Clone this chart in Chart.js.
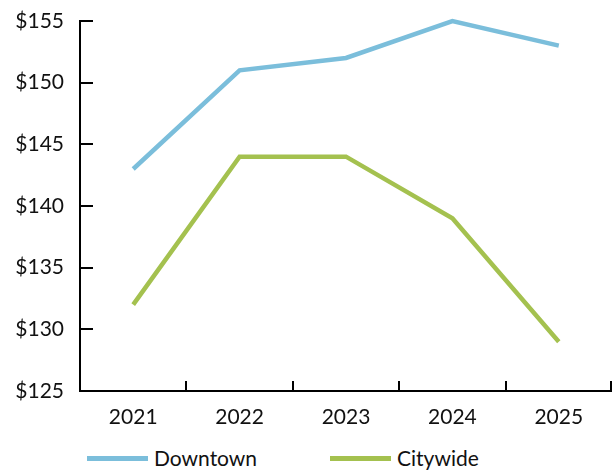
<!DOCTYPE html>
<html>
<head>
<meta charset="utf-8">
<script src="https://cdn.jsdelivr.net/npm/chart.js@4.4.0/dist/chart.umd.min.js"></script>
<style>
  html, body { margin: 0; padding: 0; background: #fff; }
  #wrap { position: relative; width: 612px; height: 472px; }
  #legend { position: absolute; left: 0; top: 446px; width: 612px; height: 24px;
            font-family: Lato, sans-serif; font-size: 21px; color: #111; }
  .item { position: absolute; top: 0; height: 24px; line-height: 24px; white-space: nowrap; }
  .swatch { position: absolute; top: 10px; width: 61px; height: 5px; }
  .label { position: absolute; top: 0; }
</style>
</head>
<body>
<div id="wrap">
  <canvas id="chart" width="612" height="425"></canvas>
  <div id="legend"></div>
</div>
<script>
// Chart data
const years = ['2021', '2022', '2023', '2024', '2025'];
const downtown = [143, 151, 152, 155, 153];
const citywide = [132, 144, 144, 139, 129];
const yTicks = [125, 130, 135, 140, 145, 150, 155];
const seriesColors = ['#7bbedb', '#a4c14f'];

// Draw short inward tick marks on both axes
const innerTicks = {
    id: 'innerTicks',
    afterDraw(chart) {
        const ctx = chart.ctx;
        const x = chart.scales.x, y = chart.scales.y;
        const area = chart.chartArea;
        const step = x.getPixelForValue(1) - x.getPixelForValue(0);
        ctx.save();
        ctx.strokeStyle = '#000';
        ctx.lineWidth = 2;
        ctx.beginPath();
        yTicks.forEach(v => {
            const py = Math.round(y.getPixelForValue(v));
            ctx.moveTo(area.left, py);
            ctx.lineTo(area.left + 13, py);
        });
        for (let i = 0; i < years.length; i++) {
            const px = Math.min(Math.round(x.getPixelForValue(i) + step / 2), area.right - 1);
            ctx.moveTo(px, area.bottom);
            ctx.lineTo(px, area.bottom - 10);
        }
        ctx.stroke();
        ctx.restore();
    }
};

const ctx = document.getElementById('chart').getContext('2d');
const chart = new Chart(ctx, {
    type: 'line',
    data: {
        labels: years,
        datasets: [{
            label: 'Downtown',
            data: downtown,
            borderColor: seriesColors[0],
            borderWidth: 4.5,
            pointRadius: 0,
            clip: false
        }, {
            label: 'Citywide',
            data: citywide,
            borderColor: seriesColors[1],
            borderWidth: 4.5,
            pointRadius: 0,
            clip: false
        }]
    },
    options: {
        responsive: false,
        animation: false,
        layout: { padding: { top: 21, right: 0, left: 0, bottom: 0 } },
        plugins: {
            tooltip: { enabled: false },
            legend: { display: false }
        },
        scales: {
            x: {
                offset: true,
                grid: { display: false, offset: true },
                border: { display: true, color: '#000', width: 2 },
                ticks: {
                    color: '#111',
                    padding: 6,
                    font: { family: 'Lato', size: 21 }
                },
                afterFit: s => { s.height = 34; }
            },
            y: {
                min: 125,
                max: 155,
                grid: { display: false },
                border: { display: true, color: '#000', width: 2 },
                afterBuildTicks: s => { s.ticks = yTicks.map(v => ({ value: v })); },
                ticks: {
                    color: '#111',
                    padding: 8,
                    font: { family: 'Lato', size: 21 },
                    callback: v => '$' + v
                },
                afterFit: s => { s.width = 80; }
            }
        }
    },
    plugins: [innerTicks]
});

// Legend below the chart, built from the datasets
const legendX = [87, 330];
const legend = document.getElementById('legend');
chart.data.datasets.forEach((ds, i) => {
    const item = document.createElement('div');
    item.className = 'item';
    item.style.left = legendX[i] + 'px';
    item.innerHTML = `<span class="swatch" style="background:${ds.borderColor}"></span>` +
        `<span class="label" style="left:67px">${ds.label}</span>`;
    legend.appendChild(item);
});
</script>
</body>
</html>
